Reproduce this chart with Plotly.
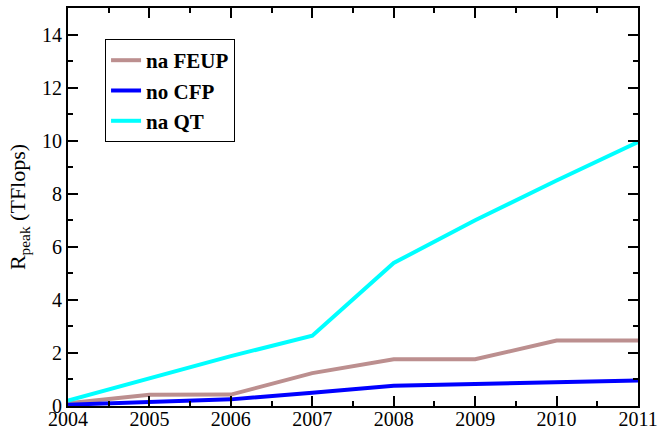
import plotly.graph_objects as go

years = [2004, 2005, 2006, 2007, 2008, 2009, 2010, 2011]
feup = [0.1, 0.42, 0.43, 1.24, 1.76, 1.76, 2.47, 2.47]
cfp = [0.05, 0.15, 0.25, 0.5, 0.76, 0.83, 0.89, 0.96]
qt = [0.2, 1.03, 1.88, 2.65, 5.39, 7.0, 8.5, 9.95]

names = ["na FEUP", "no CFP", "na QT"]
colors = ["#bc8f8f", "#0000ff", "#00ffff"]

FAM = "Liberation Serif, Times New Roman, serif"

fig = go.Figure()
for name, vals, col in zip(names, [feup, cfp, qt], colors):
    fig.add_trace(go.Scatter(x=years, y=vals, mode="lines", name=name,
                             line=dict(color=col, width=4)))

font = dict(family=FAM, size=20, color="black")
axis_common = dict(showline=True, linecolor="black", linewidth=2, mirror="allticks",
                   ticks="inside", ticklen=10, tickwidth=2, tickcolor="black",
                   showgrid=False, zeroline=False, tickfont=font, automargin=False)
fig.update_xaxes(range=[2004, 2011], dtick=1, tick0=2004, ticklabelstandoff=-6,
                 minor=dict(ticks="inside", ticklen=5, tickwidth=2, dtick=0.5, tickcolor="black", showgrid=False),
                 **axis_common)
fig.update_yaxes(range=[0, 15], dtick=2, tick0=0,
                 minor=dict(ticks="inside", ticklen=5, tickwidth=2, dtick=1, tickcolor="black", showgrid=False),
                 title=dict(text="R<sub>peak</sub> (TFlops)", font=dict(family=FAM, size=22, color="black"), standoff=10),
                 **axis_common)
fig.update_layout(width=659, height=429, margin=dict(l=68, r=21, t=8, b=23, autoexpand=False),
                  plot_bgcolor="white", paper_bgcolor="white", font=font,
                  legend=dict(x=0.065, y=0.922, xanchor="left", yanchor="top",
                              bordercolor="black", borderwidth=1, bgcolor="white",
                              font=dict(family=FAM, size=21, color="black", weight="bold"),
                              tracegroupgap=0, itemwidth=30))
fig.write_html("out.html")
